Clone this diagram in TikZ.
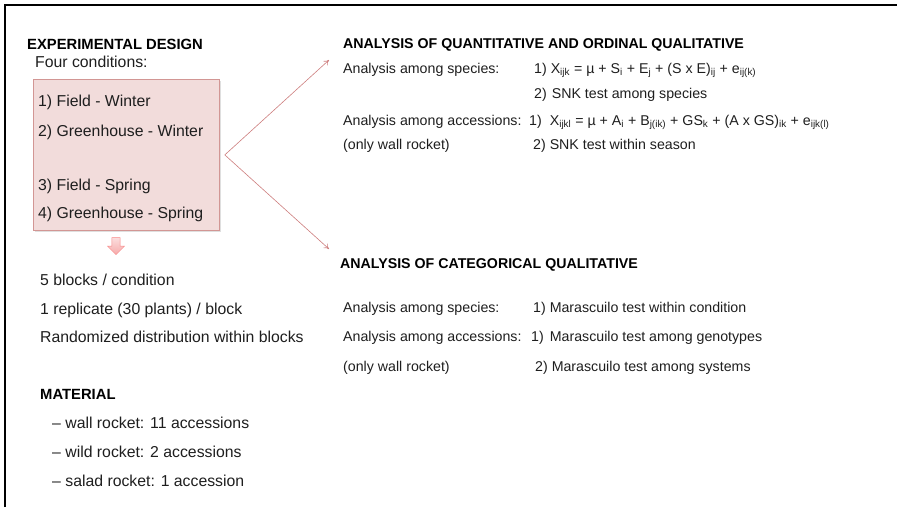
\documentclass[tikz,border=0pt]{standalone}
\usepackage{fontspec}
\setmainfont{Liberation Sans}
\usetikzlibrary{shapes.arrows, arrows.meta, shadows}
\definecolor{boxfill}{RGB}{242,220,219}
\definecolor{boxline}{RGB}{210,150,148}
\definecolor{linkred}{RGB}{205,125,125}
\definecolor{arrowpink}{RGB}{246,170,170}
\definecolor{textgray}{RGB}{30,30,30}
\tikzstyle{lhead} = [anchor=base west, inner sep=0, text=black, font=\bfseries\fontsize{14.8}{17}\selectfont]
\tikzstyle{ltext} = [anchor=base west, inner sep=0, text=textgray, font=\fontsize{15.8}{18}\selectfont]
\tikzstyle{rhead} = [anchor=base west, inner sep=0, text=black, font=\bfseries\fontsize{14.2}{17}\selectfont]
\tikzstyle{rtext} = [anchor=base west, inner sep=0, text=textgray, font=\fontsize{14.2}{17}\selectfont]
\tikzstyle{condbox} = [rectangle, anchor=north west, minimum width=186pt, minimum height=151pt, inner sep=0, fill=boxfill, draw=boxline, line width=0.8pt, drop shadow={opacity=0.25, shadow xshift=1.2pt, shadow yshift=-1.2pt}]
\tikzstyle{link} = [linkred, line width=0.6pt, -{To[length=5pt, width=6pt]}]

\begin{document}
\begin{tikzpicture}[x=1pt, y=-1pt]
    \useasboundingbox (0,0) rectangle (897,507);

% Frame
    \draw[line width=1.6pt] (5,507) -- (5,5) -- (897,5);

    % Experimental design
    \node (design) at (27,49) [lhead] {EXPERIMENTAL DESIGN};
    \node (four) at (35,67) [ltext] {Four conditions:};
    \node (cond) at (33,79) [condbox] {};
    \node (c1) at (38,106) [ltext] {1) Field - Winter};
    \node (c2) at (38,136) [ltext] {2) Greenhouse - Winter};
    \node (c3) at (38,190) [ltext] {3) Field - Spring};
    \node (c4) at (38,218) [ltext] {4) Greenhouse - Spring};

    % Down arrow below the conditions
    \node (down) at (116,244) [single arrow, shape border rotate=270, minimum width=17pt, minimum height=17pt, single arrow head extend=2.5pt, inner sep=2.2pt, top color=arrowpink!40, bottom color=arrowpink, draw=arrowpink!80!red, line width=0.4pt] {};

    \node (blocks) at (40,285) [ltext] {5 blocks / condition};
    \node (repl) at (40,314) [ltext] {1 replicate (30 plants) / block};
    \node (rand) at (40,342) [ltext] {Randomized distribution within blocks};

    % Material
    \node (mat) at (40,399) [lhead] {MATERIAL};
    \node (wall) at (52,428) [ltext] {– wall rocket: 11 accessions};
    \node (wild) at (52,457) [ltext] {– wild rocket: 2 accessions};
    \node (salad) at (52,486) [ltext] {– salad rocket: 1 accession};

    % Fork towards the two analyses
    \coordinate (fork) at ([xshift=5pt]cond.east);
    \coordinate (uptip) at (329,60);
    \coordinate (lowtip) at (329,249);
    \draw[link] (fork) -- (uptip);
    \draw[link] (fork) -- (lowtip);

    % Quantitative and ordinal qualitative
    \node (qhead) at (343,48) [rhead] {ANALYSIS OF QUANTITATIVE AND ORDINAL QUALITATIVE};
    \node (qsp) at (343,73) [rtext] {Analysis among species:};
    \node (qsp1) at (534,73) [rtext] {1) X\textsubscript{ijk} = µ + S\textsubscript{i} + E\textsubscript{j} + (S x E)\textsubscript{ij} + e\textsubscript{ij(k)}};
    \node (qsp2) at (534,98) [rtext] {2)\hspace{5pt}SNK test among species};
    \node (qacc) at (343,125) [rtext] {Analysis among accessions:};
    \node (qacc1) at (529,125) [rtext] {1)\hspace{8pt}X\textsubscript{ijkl} = µ + A\textsubscript{i} + B\textsubscript{j(ik)} + GS\textsubscript{k} + (A x GS)\textsubscript{ik} + e\textsubscript{ijk(l)}};
    \node (qonly) at (343,149) [rtext] {(only wall rocket)};
    \node (qacc2) at (533,149) [rtext] {2) SNK test within season};

    % Categorical qualitative
    \node (chead) at (340,268) [rhead] {ANALYSIS OF CATEGORICAL QUALITATIVE};
    \node (csp) at (343,312) [rtext] {Analysis among species:};
    \node (csp1) at (533,312) [rtext] {1) Marascuilo test within condition};
    \node (cacc) at (343,341) [rtext] {Analysis among accessions:};
    \node (cacc1) at (531,341) [rtext] {1)\hspace{6pt}Marascuilo test among genotypes};
    \node (conly) at (343,371) [rtext] {(only wall rocket)};
    \node (cacc2) at (535,371) [rtext] {2) Marascuilo test among systems};

\end{tikzpicture}
\end{document}
